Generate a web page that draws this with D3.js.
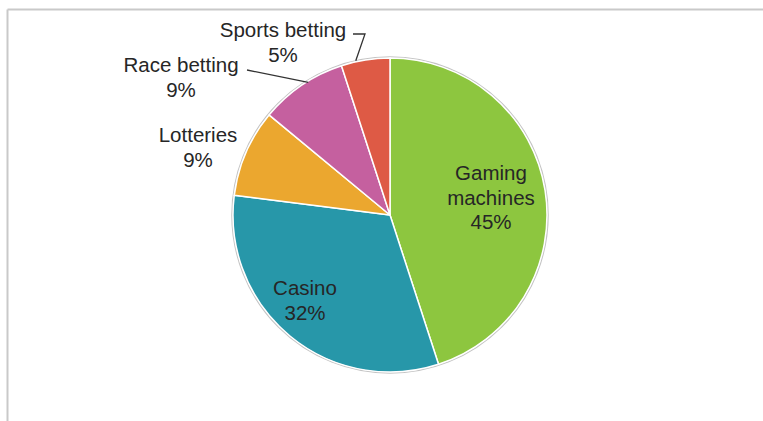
<!DOCTYPE html>
<html><head><meta charset="utf-8">
<script src="https://cdn.jsdelivr.net/npm/d3@7"></script>
<style>html,body{margin:0;padding:0;background:#fff;}</style>
</head><body>
<svg id="chart" width="763" height="421"></svg>
<script>
const categories = ["Gaming machines", "Casino", "Lotteries", "Race betting", "Sports betting"];
const values = [45, 32, 9, 9, 5];
const colors = ["#8dc63f", "#2797a9", "#eba72f", "#c5609f", "#de5a45"];

const W = 763, H = 421, cx = 390, cy = 215, R = 157;
const svg = d3.select("#chart");

// frame
svg.append("line").attr("x1", 7.5).attr("y1", 9.5).attr("x2", W).attr("y2", 9.5).attr("stroke", "#c9c9c9").attr("stroke-width", 2);
svg.append("line").attr("x1", 7.5).attr("y1", 9.5).attr("x2", 7.5).attr("y2", H).attr("stroke", "#c9c9c9").attr("stroke-width", 2);

const data = categories.map((c, i) => ({name: c, value: values[i], color: colors[i]}));
const pie = d3.pie().value(d => d.value).sort(null);
const arcs = pie(data);
const arc = d3.arc().innerRadius(0).outerRadius(R);
const g = svg.append("g").attr("transform", `translate(${cx},${cy})`);

g.append("circle").attr("r", R + 1).attr("fill", "none").attr("stroke", "#c4c4c4").attr("stroke-width", 1.5);
g.selectAll("path.slice").data(arcs).join("path")
  .attr("class", "slice")
  .attr("d", arc)
  .attr("fill", d => d.data.color)
  .attr("stroke", "#ffffff").attr("stroke-width", 1.5).attr("stroke-linejoin", "round");

// label layout (relative to pie center): [x, baseline of first line]
const labelPos = {
  "Gaming machines": [101, -35],
  "Casino": [-85, 80],
  "Lotteries": [-192, -73],
  "Race betting": [-209, -143],
  "Sports betting": [-107, -178]
};
const fmt = v => v + "%";
const lh = 24.5;
arcs.forEach(a => {
  const name = a.data.name;
  const words = name === "Gaming machines" ? ["Gaming", "machines"] : [name];
  const lines = words.concat([fmt(a.data.value)]);
  const p = labelPos[name];
  const t = g.append("text")
    .attr("text-anchor", "middle")
    .attr("font-family", "Arial, 'Liberation Sans', sans-serif")
    .attr("font-size", 20.5)
    .attr("fill", "#262626");
  lines.forEach((ln, i) => {
    t.append("tspan").attr("x", p[0]).attr("y", p[1] + i * lh).text(ln);
  });
});

// leader lines (from label to slice edge, computed from arc angles)
function edgePoint(a, frac) {
  const ang = a.startAngle + (a.endAngle - a.startAngle) * frac;
  return [R * Math.sin(ang), -R * Math.cos(ang)];
}
const race = arcs[3], sports = arcs[4];
const pr = edgePoint(race, 0.6);
g.append("path").attr("d", d3.line()([[-143, -145], [pr[0] - 1, pr[1] + 2]]))
  .attr("fill", "none").attr("stroke", "#333").attr("stroke-width", 1.3);
const ps = edgePoint(sports, 0.3);
g.append("path").attr("d", d3.line()([[-37, -181], [-25, -181], [ps[0], ps[1] - 1]]))
  .attr("fill", "none").attr("stroke", "#333").attr("stroke-width", 1.3);
</script>
</body></html>
